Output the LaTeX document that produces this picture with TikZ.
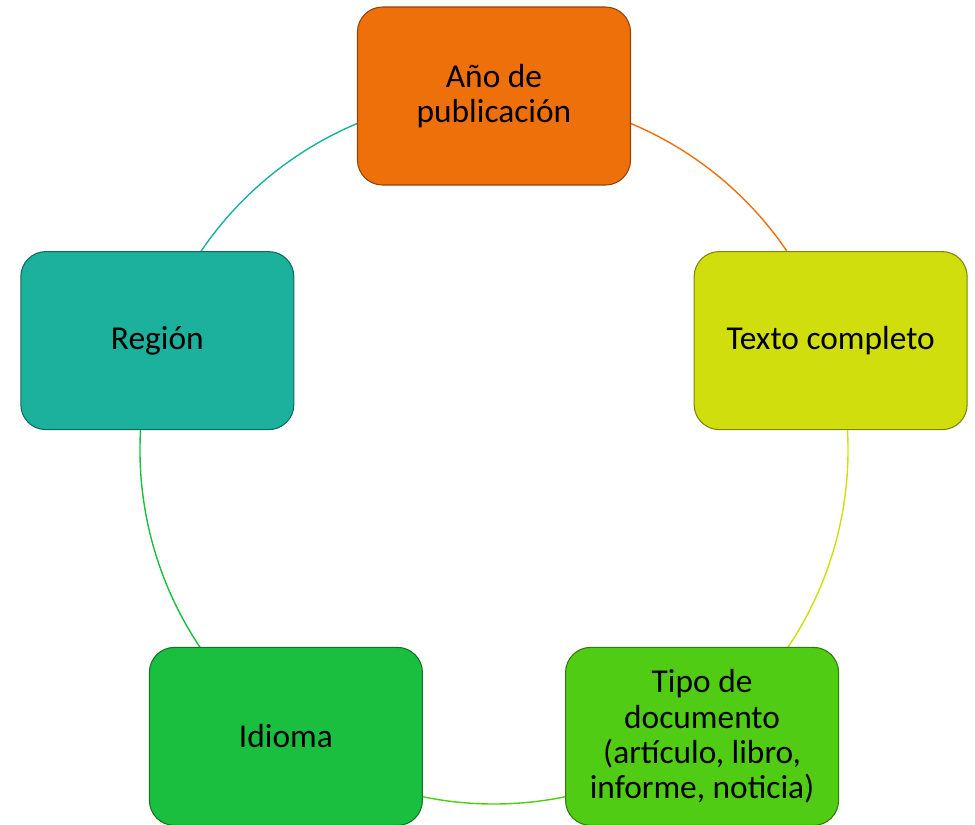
\documentclass[tikz,border=0pt]{standalone}
\usepackage{fontspec}
\setmainfont{Carlito}
\usetikzlibrary{backgrounds}
\definecolor{naranja}{RGB}{238,112,11}
\definecolor{lima}{RGB}{208,222,14}
\definecolor{verdeclaro}{RGB}{80,204,20}
\definecolor{verde}{RGB}{26,191,64}
\definecolor{turquesa}{RGB}{27,177,157}

\begin{document}
\begin{tikzpicture}
	\tikzstyle{caja}=[rounded corners=0.5cm,minimum width=5.46cm,minimum height=3.56cm,inner sep=2pt,align=center,font=\fontsize{19}{20}\selectfont,line width=0.6pt]
	\tikzstyle{arco}=[line width=0.8pt]
	\useasboundingbox (0,0) rectangle (19.5,-16.5);
	\coordinate (c) at (9.88,-9.0);
	\node[caja,fill=naranja,draw=naranja!60!black] (anio) at ([shift={(90:7.08)}]c) {Año de\\publicación};
	\node[caja,fill=lima,draw=lima!60!black] (texto) at ([shift={(18:7.08)}]c) {Texto completo};
	\node[caja,fill=verdeclaro,draw=verdeclaro!60!black] (tipo) at ([shift={(-54:7.08)}]c) {Tipo de\\documento\\(artículo, libro,\\informe, noticia)};
	\node[caja,fill=verde,draw=verde!60!black] (idioma) at ([shift={(-126:7.08)}]c) {Idioma};
	\node[caja,fill=turquesa,draw=turquesa!60!black] (region) at ([shift={(162:7.08)}]c) {Región};

	\begin{scope}[on background layer]
		\draw[arco,naranja] (anio.center) arc[start angle=90,end angle=18,radius=7.08cm];
		\draw[arco,lima] (texto.center) arc[start angle=18,end angle=-54,radius=7.08cm];
		\draw[arco,verdeclaro] (tipo.center) arc[start angle=-54,end angle=-126,radius=7.08cm];
		\draw[arco,verde] (idioma.center) arc[start angle=-126,end angle=-198,radius=7.08cm];
		\draw[arco,turquesa] (region.center) arc[start angle=162,end angle=90,radius=7.08cm];
	\end{scope}
\end{tikzpicture}
\end{document}
